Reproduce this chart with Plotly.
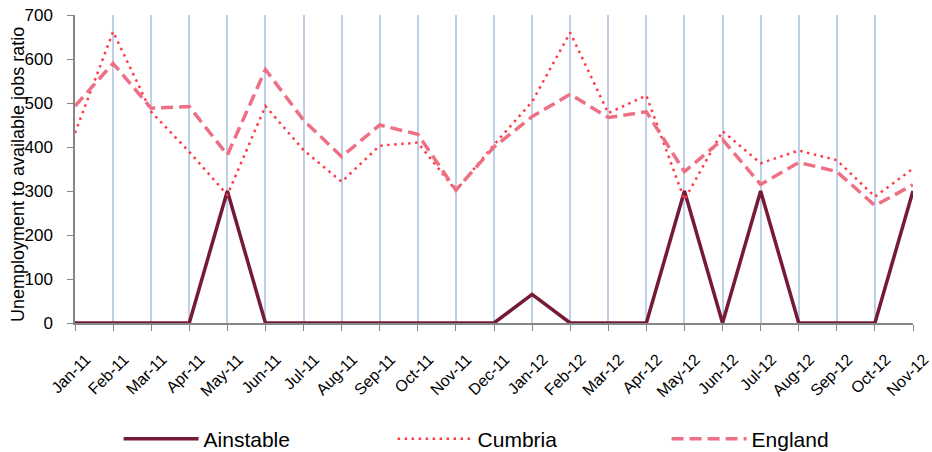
import plotly.graph_objects as go

months = ["Jan-11","Feb-11","Mar-11","Apr-11","May-11","Jun-11","Jul-11","Aug-11","Sep-11","Oct-11","Nov-11","Dec-11",
          "Jan-12","Feb-12","Mar-12","Apr-12","May-12","Jun-12","Jul-12","Aug-12","Sep-12","Oct-12","Nov-12"]
ainstable = [0,0,0,0,300,0,0,0,0,0,0,0,65,0,0,0,300,0,300,0,0,0,300]
cumbria = [432,662,480,389,291,493,393,321,403,410,301,405,503,660,477,517,280,436,363,392,370,287,351]
england = [493,590,488,492,382,576,461,378,450,429,302,400,469,520,467,480,344,417,315,365,344,267,314]
y_title = "Unemployment to available jobs ratio"

font_family = "Liberation Sans, Arial, sans-serif"

fig = go.Figure()
fig.add_trace(go.Scatter(x=months, y=ainstable, mode="lines", name="Ainstable",
                         line=dict(color="#751B35", width=3.5)))
fig.add_trace(go.Scatter(x=months, y=cumbria, mode="lines", name="Cumbria",
                         line=dict(color="#FF3B47", width=2.5, dash="2.5px,4.5px")))
fig.add_trace(go.Scatter(x=months, y=england, mode="lines", name="England",
                         line=dict(color="#EE7085", width=3.5, dash="12px,6px")))

fig.update_layout(
    width=932, height=452,
    margin=dict(l=75, r=19, t=15, b=129, autoexpand=False),
    paper_bgcolor="white", plot_bgcolor="white",
    font=dict(family=font_family, size=16, color="black"),
    showlegend=True,
    legend=dict(orientation="h", x=0.052, xanchor="left", y=-0.377, yanchor="middle",
                entrywidth=184, entrywidthmode="pixels", font=dict(size=21),
                itemwidth=75, tracegroupgap=0, bgcolor="rgba(0,0,0,0)"),
    xaxis=dict(type="category", range=[0, 22], showgrid=True, gridcolor="#BCD0E8", gridwidth=2,
               showline=True, linecolor="#868686", linewidth=1.5, automargin=False,
               ticks="outside", ticklen=6, tickcolor="#868686", tickangle=-45,
               tickfont=dict(size=16), zeroline=False, ticklabelstandoff=13, ticklabelshift=11,
               ticklabeloverflow="allow"),
    yaxis=dict(range=[0, 700], dtick=100, showgrid=False, showline=True, linecolor="#868686",
               linewidth=1.5, ticks="outside", ticklen=6, tickcolor="#868686", automargin=False,
               tickfont=dict(size=17), zeroline=False, ticklabelstandoff=11,
               ticklabeloverflow="allow"),
    annotations=[dict(text=y_title, textangle=-90, xref="paper", yref="paper", x=0, y=0.5,
                      xanchor="center", yanchor="middle", xshift=-57, yshift=-6, showarrow=False,
                      font=dict(size=18))],
)

# remove the browser's default 8px body margin so the figure fills the window exactly
fig.write_html("out.html", config={"displayModeBar": False},
               post_script="document.body.style.margin='0';")
